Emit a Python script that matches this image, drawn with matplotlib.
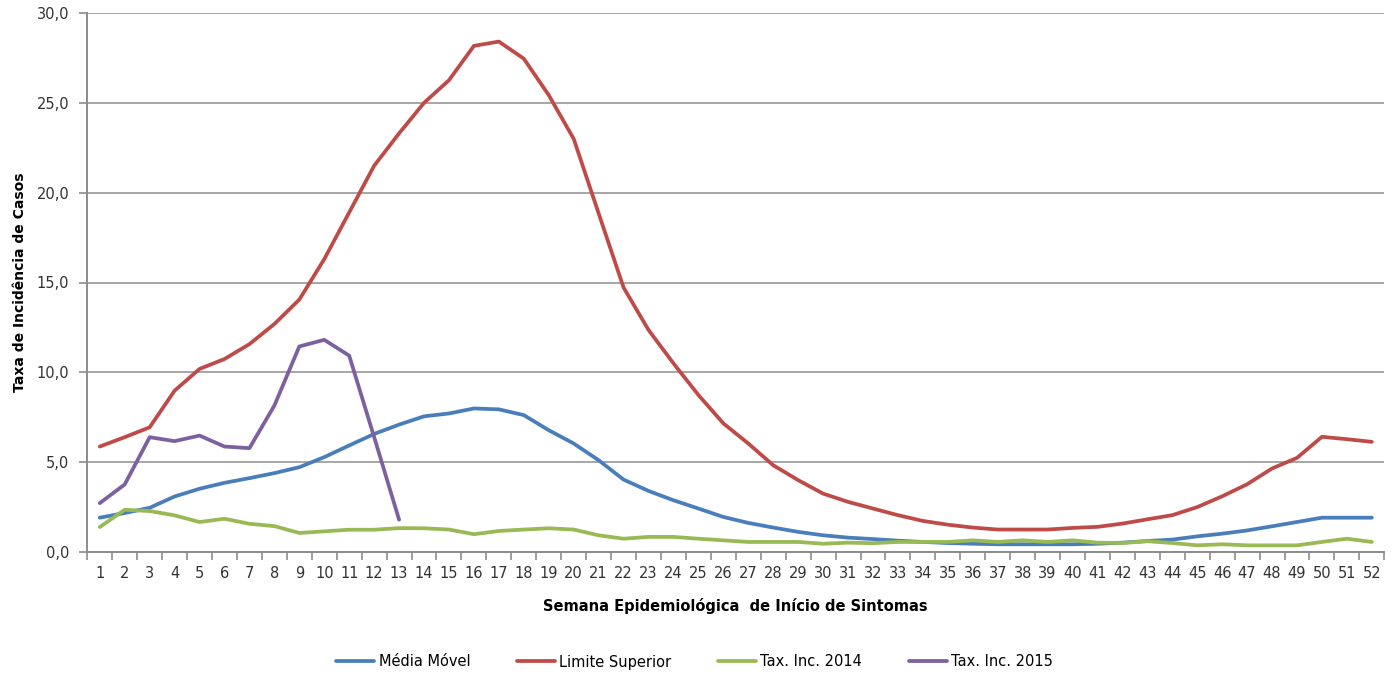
import matplotlib
matplotlib.use("Agg")
import matplotlib.pyplot as plt
import numpy as np

weeks = list(range(1, 53))

media_movel = [1.91, 2.17, 2.46, 3.09, 3.52, 3.85, 4.11, 4.39, 4.72, 5.28,
               5.93, 6.57, 7.09, 7.55, 7.71, 7.99, 7.94, 7.62, 6.78, 6.04,
               5.11, 4.03, 3.40, 2.88, 2.42, 1.95, 1.62, 1.36, 1.12, 0.93,
               0.80, 0.72, 0.63, 0.56, 0.50, 0.46, 0.43, 0.43, 0.43, 0.43,
               0.46, 0.52, 0.61, 0.69, 0.87, 1.02, 1.20, 1.43, 1.67, 1.91,
               1.91, 1.91]

limite_superior = [5.87, 6.39, 6.94, 8.98, 10.19, 10.74, 11.57, 12.69, 14.05, 16.3,
                   18.9, 21.5, 23.3, 25.0, 26.26, 28.17, 28.41, 27.46, 25.43, 23.0,
                   18.85, 14.72, 12.36, 10.5, 8.74, 7.16, 6.04, 4.83, 4.0, 3.25,
                   2.79, 2.42, 2.05, 1.73, 1.52, 1.36, 1.25, 1.25, 1.25, 1.34,
                   1.40, 1.58, 1.82, 2.05, 2.50, 3.10, 3.77, 4.65, 5.24, 6.41,
                   6.28, 6.13]

tax_2014 = [1.39, 2.35, 2.28, 2.04, 1.67, 1.85, 1.57, 1.44, 1.06, 1.15,
            1.24, 1.24, 1.33, 1.32, 1.25, 0.99, 1.17, 1.25, 1.32, 1.25,
            0.93, 0.74, 0.84, 0.84, 0.74, 0.65, 0.56, 0.56, 0.56, 0.46,
            0.52, 0.49, 0.56, 0.56, 0.56, 0.65, 0.56, 0.65, 0.56, 0.65,
            0.52, 0.50, 0.60, 0.50, 0.37, 0.43, 0.37, 0.37, 0.37, 0.56,
            0.74, 0.56]

tax_2015 = [2.72, 3.76, 6.39, 6.17, 6.48, 5.87, 5.78, 8.15, 11.44, 11.81,
            10.93, 6.4, 1.80]

series_names = ["Média Móvel", "Limite Superior", "Tax. Inc. 2014", "Tax. Inc. 2015"]
colors = ["#4A7EBB", "#BE4B48", "#98B954", "#7D60A0"]

fig = plt.figure(figsize=(13.95, 6.75), dpi=100)
ax = fig.add_axes([87.3 / 1395, 1 - 552 / 675, (1384.3 - 87.3) / 1395, (552 - 13) / 675])

lw = 2.7
kw = dict(lw=lw, solid_capstyle="round", solid_joinstyle="round")
ax.plot(weeks, media_movel, color=colors[0], label=series_names[0], **kw)
ax.plot(weeks, limite_superior, color=colors[1], label=series_names[1], **kw)
ax.plot(weeks, tax_2014, color=colors[2], label=series_names[2], **kw)
ax.plot(weeks[:len(tax_2015)], tax_2015, color=colors[3], label=series_names[3], **kw)

ax.set_xlim(0.5, 52.5)
ax.set_ylim(0, 30)

yt = np.arange(0, 31, 5)
ax.set_yticks(yt)
ax.set_yticklabels([f"{v:.1f}".replace(".", ",") for v in yt], fontsize=10.5, color="#333333")
ax.yaxis.grid(True, color="#A6A6A6", lw=1.4)
ax.set_axisbelow(True)

# x ticks: marks at category boundaries, labels at centers
ax.set_xticks(np.arange(0.5, 53, 1))
ax.set_xticklabels([])
ax.set_xticks(weeks, minor=True)
ax.set_xticklabels([str(w) for w in weeks], minor=True, fontsize=10.5, color="#333333")
ax.tick_params(axis="x", which="minor", length=0, pad=10)
ax.tick_params(axis="x", which="major", length=6, width=1.2, color="#8C8C8C")
ax.tick_params(axis="y", length=6, width=1.2, color="#8C8C8C", pad=7)

for s in ["top", "right"]:
    ax.spines[s].set_visible(False)
for s in ["left", "bottom"]:
    ax.spines[s].set_color("#8C8C8C")
    ax.spines[s].set_linewidth(1.4)

ax.set_ylabel("Taxa de Incidência de Casos", fontsize=10, fontweight="bold", labelpad=7)
ax.set_xlabel("Semana Epidemiológica  de Início de Sintomas", fontsize=10.5, fontweight="bold",
              labelpad=12)

fig.legend(loc="center", bbox_to_anchor=(0.498, 1 - 662 / 675), ncol=4, frameon=False,
           fontsize=10.5, handlelength=2.6, columnspacing=3.2, handletextpad=0.3)

fig.savefig("out.png", dpi=100, facecolor="white")
